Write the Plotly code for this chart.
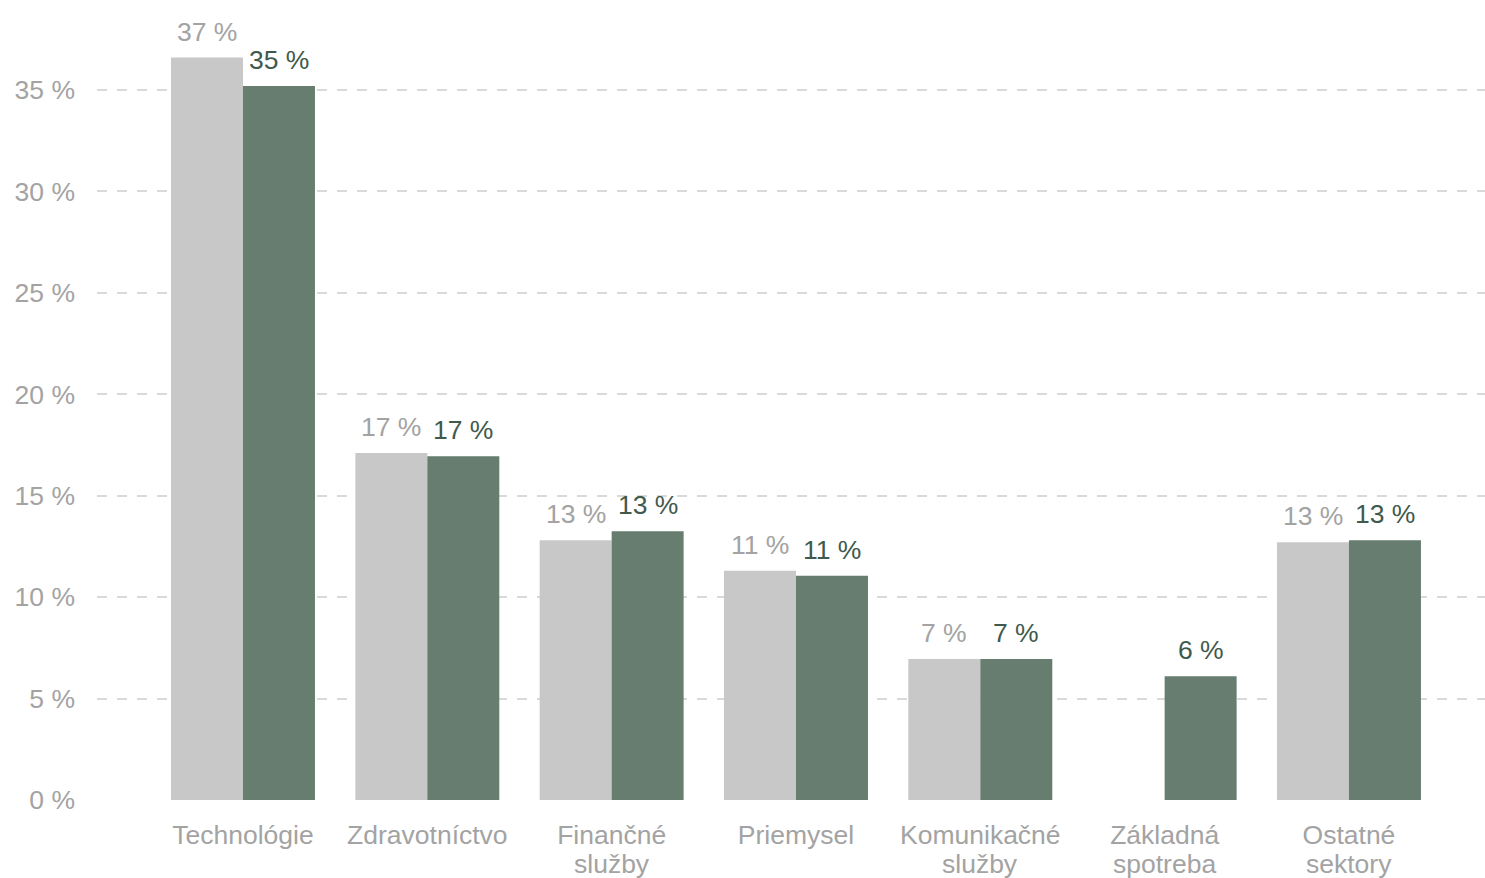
import plotly.graph_objects as go

# Sector weights (%) for the two portfolios
categories = [
    "Technológie",
    "Zdravotníctvo",
    "Finančné služby",
    "Priemysel",
    "Komunikačné služby",
    "Základná spotreba",
    "Ostatné sektory",
]
benchmark = [36.6, 17.1, 12.8, 11.3, 6.95, None, 12.7]
portfolio = [35.2, 16.95, 13.25, 11.05, 6.95, 6.1, 12.8]
y_ticks = [0, 5, 10, 15, 20, 25, 30, 35]
y_tick_labels = [f"{v} %" for v in y_ticks]

GREY_BAR = "#c8c8c8"
GREEN_BAR = "#667d70"
GREY_TEXT = "#a3a3a3"
GREEN_TEXT = "#3f5a4d"
FONT = "Liberation Sans, Arial, sans-serif"
FS = 26.5

fig = go.Figure()
fig.add_bar(x=categories, y=benchmark, marker_color=GREY_BAR, marker_line_width=0)
fig.add_bar(x=categories, y=portfolio, marker_color=GREEN_BAR, marker_line_width=0)

# Value labels above each bar
offset = 0.195
for i, (b, p) in enumerate(zip(benchmark, portfolio)):
    if b is not None:
        fig.add_annotation(x=i - offset, y=b, xref="x", yref="y", text=f"{round(b)} %",
                           showarrow=False, yanchor="bottom", yshift=9,
                           font=dict(family=FONT, size=FS, color=GREY_TEXT))
    if p is not None:
        fig.add_annotation(x=i + offset, y=p, xref="x", yref="y", text=f"{round(p)} %",
                           showarrow=False, yanchor="bottom", yshift=9,
                           font=dict(family=FONT, size=FS, color=GREEN_TEXT))

# Category labels: first word on the axis, second word on a tighter second line
first_lines = [c.split(" ")[0] for c in categories]
for i, c in enumerate(categories):
    parts = c.split(" ", 1)
    if len(parts) > 1:
        fig.add_annotation(x=i, y=0, xref="x", yref="y", text=parts[1],
                           showarrow=False, yanchor="middle", yshift=-64,
                           font=dict(family=FONT, size=FS, color=GREY_TEXT))

fig.update_layout(
    width=1485, height=878,
    margin=dict(l=97, r=0, t=0, b=78),
    barmode="group", bargap=0.219, bargroupgap=0,
    showlegend=False,
    plot_bgcolor="white", paper_bgcolor="white",
    font=dict(family=FONT, size=FS, color=GREY_TEXT),
)
fig.update_xaxes(
    range=[-0.792, 6.738], showgrid=False, showline=False, zeroline=False,
    tickvals=categories, ticktext=first_lines,
    ticks="", tickfont=dict(family=FONT, size=FS, color=GREY_TEXT),
    ticklabelstandoff=16, automargin=False,
)
fig.update_yaxes(
    range=[0, 39.437], tickvals=y_ticks, ticktext=y_tick_labels,
    showgrid=True, gridcolor="#d9d9d9", gridwidth=2, griddash="10px,10px",
    zeroline=False, showline=False, ticks="",
    tickfont=dict(family=FONT, size=FS, color=GREY_TEXT),
    ticklabelstandoff=21, automargin=False,
)

fig.write_html("out.html")
